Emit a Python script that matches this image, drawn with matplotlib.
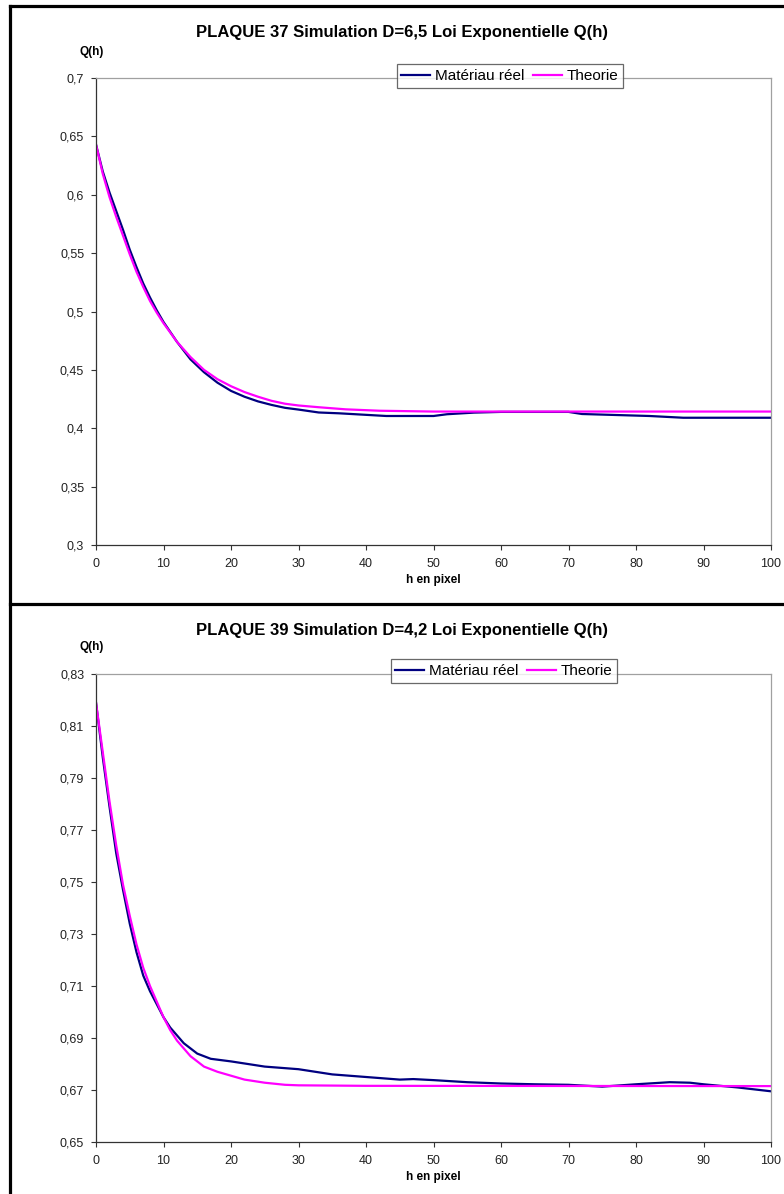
import matplotlib
matplotlib.use("Agg")
import matplotlib.pyplot as plt
from matplotlib.lines import Line2D
from matplotlib.ticker import FuncFormatter

plt.rcParams['font.family'] = ['Liberation Sans', 'DejaVu Sans']

# ── PLAQUE 37 (D=6,5) ──
h_reel_37 = [0, 1, 2, 3, 4, 5, 6, 7, 8, 9, 10, 12, 14, 16, 18, 20, 22, 24, 26, 28,
             30, 33, 36, 43, 50, 52, 56, 60, 70, 72, 82, 87, 100]
q_reel_37 = [0.643, 0.620, 0.602, 0.586, 0.570, 0.553, 0.538, 0.524, 0.512, 0.501,
             0.491, 0.474, 0.459, 0.448, 0.439, 0.432, 0.427, 0.423, 0.420, 0.4175,
             0.416, 0.4135, 0.4128, 0.4105, 0.4105, 0.412, 0.4134, 0.414, 0.414,
             0.4122, 0.4105, 0.409, 0.409]
h_theo_37 = [0, 1, 2, 3, 4, 5, 6, 7, 8, 9, 10, 12, 14, 16, 18, 20, 22, 24, 26, 28,
             30, 33, 37, 42, 50, 100]
q_theo_37 = [0.643, 0.618, 0.598, 0.581, 0.565, 0.549, 0.534, 0.521, 0.509, 0.499,
             0.490, 0.474, 0.461, 0.450, 0.442, 0.436, 0.431, 0.427, 0.4235, 0.421,
             0.4195, 0.418, 0.4162, 0.415, 0.4143, 0.4143]
yticks_37 = [0.3, 0.35, 0.4, 0.45, 0.5, 0.55, 0.6, 0.65, 0.7]

# ── PLAQUE 39 (D=4,2) ──
h_reel_39 = [0, 1, 2, 3, 4, 5, 6, 7, 8, 9, 10, 11, 12, 13, 14, 15, 17, 20, 25, 30,
             35, 40, 45, 47, 50, 55, 60, 65, 70, 75, 80, 85, 88, 90, 95, 100]
q_reel_39 = [0.819, 0.798, 0.779, 0.761, 0.747, 0.734, 0.723, 0.714, 0.708, 0.703,
             0.698, 0.694, 0.691, 0.688, 0.686, 0.684, 0.682, 0.681, 0.679, 0.678,
             0.676, 0.675, 0.674, 0.6742, 0.6738, 0.673, 0.6725, 0.6722, 0.672,
             0.6713, 0.6722, 0.673, 0.6728, 0.6722, 0.671, 0.6695]
h_theo_39 = [0, 1, 2, 3, 4, 5, 6, 7, 8, 9, 10, 11, 12, 13, 14, 15, 16, 18, 20, 22,
             25, 28, 30, 40, 100]
q_theo_39 = [0.819, 0.800, 0.781, 0.764, 0.749, 0.737, 0.726, 0.717, 0.710, 0.704,
             0.698, 0.693, 0.689, 0.686, 0.683, 0.681, 0.679, 0.677, 0.6755, 0.674,
             0.6728, 0.672, 0.6718, 0.6716, 0.6715]
yticks_39 = [0.65, 0.67, 0.69, 0.71, 0.73, 0.75, 0.77, 0.79, 0.81, 0.83]

xticks = [0, 10, 20, 30, 40, 50, 60, 70, 80, 90, 100]
series_labels = ["Matériau réel", "Theorie"]
titles = ["PLAQUE 37 Simulation D=6,5 Loi Exponentielle Q(h)",
          "PLAQUE 39 Simulation D=4,2 Loi Exponentielle Q(h)"]

W, H = 784, 1194


def fx(px):
    return px / W


def fy(py):
    return 1 - py / H


def comma(v, pos):
    return f"{round(v, 2):g}".replace(".", ",")


def draw_panel(fig, top_px, bottom_px, title, title_py, qh_py, legend_c,
               h_reel, q_reel, h_theo, q_theo, yticks):
    ax = fig.add_axes([fx(96), fy(bottom_px), fx(771) - fx(96), (bottom_px - top_px) / H])
    ax.plot(h_reel, q_reel, color="#000080", lw=1.6, label=series_labels[0])
    ax.plot(h_theo, q_theo, color="#ff00ff", lw=1.6, label=series_labels[1])
    ax.set_xlim(xticks[0], xticks[-1])
    ax.set_ylim(yticks[0], yticks[-1])
    ax.set_xticks(xticks)
    ax.set_yticks(yticks)
    ax.yaxis.set_major_formatter(FuncFormatter(comma))
    ax.tick_params(direction="out", length=3.5, width=0.8, color="#333333",
                   labelsize=9, labelcolor="#222222")
    ax.tick_params(axis="y", pad=5)
    ax.tick_params(axis="x", pad=6)
    for s in ("left", "bottom"):
        ax.spines[s].set_color("#333333")
        ax.spines[s].set_linewidth(0.9)
    for s in ("top", "right"):
        ax.spines[s].set_color("#a0a0a0")
        ax.spines[s].set_linewidth(0.9)
    ax.set_xlabel("h en pixel", fontsize=8.5, fontweight="bold", labelpad=3)

    fig.text(fx(402), fy(title_py), title, ha="center", va="center",
             fontsize=12, fontweight="bold")
    fig.text(fx(92), fy(qh_py), "Q(h)", ha="center", va="center",
             fontsize=8.5, fontweight="bold")

    leg = ax.legend(loc="center", bbox_to_anchor=(fx(legend_c[0]), fy(legend_c[1])),
                    bbox_transform=fig.transFigure, ncol=2, fontsize=11,
                    frameon=True, fancybox=False, handlelength=1.9,
                    handletextpad=0.3, columnspacing=0.6, borderpad=0.3,
                    borderaxespad=0)
    leg.get_frame().set_edgecolor("#444444")
    leg.get_frame().set_linewidth(0.9)
    for line in leg.get_lines():
        line.set_linewidth(1.6)
    return ax


fig = plt.figure(figsize=(W / 100, H / 100), dpi=100)

draw_panel(fig, 78, 545, titles[0], 33, 52, (510, 76),
           h_reel_37, q_reel_37, h_theo_37, q_theo_37, yticks_37)
draw_panel(fig, 674, 1142, titles[1], 630, 647, (504, 671),
           h_reel_39, q_reel_39, h_theo_39, q_theo_39, yticks_39)

# black frame of the two chart blocks
for (x0, y0, x1, y1) in [(10, 6, 10, H), (10, 6, W, 6), (10, 604, W, 604)]:
    fig.add_artist(Line2D([fx(x0), fx(x1)], [fy(y0), fy(y1)],
                          transform=fig.transFigure, color="black", lw=2.3))

fig.savefig("out.png", dpi=100)
